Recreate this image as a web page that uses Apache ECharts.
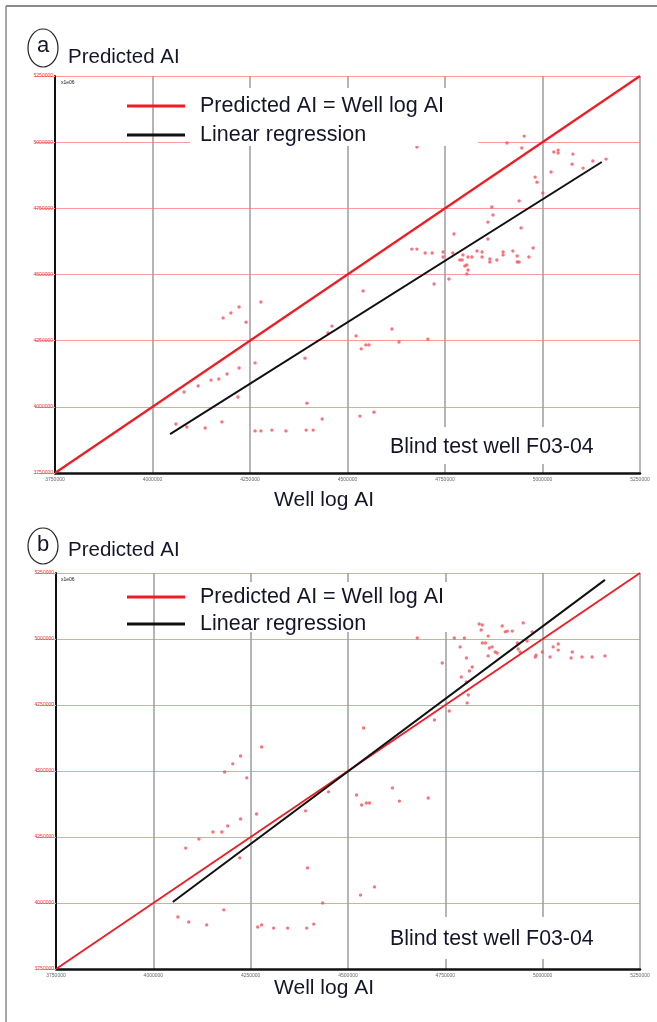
<!DOCTYPE html>
<html>
<head>
<meta charset="utf-8">
<script src="https://cdn.jsdelivr.net/npm/echarts@6/dist/echarts.min.js"></script>
<style>
html,body{margin:0;padding:0;background:#fff;}
#chart{width:657px;height:1022px;}
</style>
</head>
<body>
<div id="chart"></div>
<script>
// ---- data ----
const axisMin = 3750000;
const axisMax = 5250000;
const axisStep = 250000;
const identityLine = [[3750000, 3750000], [5250000, 5250000]];
const regressionA = [[4045000, 3897000], [5152000, 4925000]];
const regressionB = [[4050000, 4004000], [5160000, 5224000]];
const pointsA = [[4678000,4982000],[4909000,4997000],[4953000,5023000],[4947000,4978000],[5029000,4963000],[5040000,4970000],[5040000,4959000],[5078000,4955000],[5076000,4917000],[5104000,4902000],[5129000,4929000],[5163000,4936000],[5022000,4887000],[4981000,4868000],[4986000,4849000],[5001000,4808000],[4940000,4778000],[4870000,4755000],[4873000,4725000],[4860000,4698000],[4945000,4676000],[4773000,4653000],[4860000,4634000],[4976000,4600000],[4665000,4596000],[4678000,4596000],[4699000,4581000],[4717000,4581000],[4745000,4585000],[4745000,4566000],[4770000,4581000],[4796000,4574000],[4788000,4555000],[4794000,4555000],[4809000,4566000],[4819000,4566000],[4832000,4589000],[4845000,4585000],[4845000,4566000],[4865000,4559000],[4865000,4547000],[4883000,4555000],[4899000,4585000],[4899000,4574000],[4924000,4589000],[4935000,4570000],[4935000,4547000],[4940000,4547000],[4965000,4566000],[4806000,4536000],[4809000,4517000],[4806000,4502000],[4801000,4532000],[4722000,4464000],[4760000,4483000],[4540000,4438000],[4181000,4336000],[4201000,4355000],[4222000,4377000],[4240000,4320000],[4278000,4396000],[4460000,4305000],[4450000,4279000],[4522000,4268000],[4614000,4294000],[4535000,4219000],[4547000,4234000],[4555000,4234000],[4632000,4245000],[4706000,4256000],[4263000,4166000],[4391000,4184000],[4222000,4147000],[4191000,4124000],[4170000,4105000],[4150000,4101000],[4117000,4079000],[4081000,4056000],[4219000,4037000],[4396000,4014000],[4060000,3935000],[4088000,3924000],[4135000,3920000],[4178000,3943000],[4263000,3909000],[4278000,3909000],[4306000,3912000],[4342000,3909000],[4394000,3912000],[4412000,3912000],[4435000,3954000],[4532000,3965000],[4568000,3980000]];
const pointsB = [[4837000,5057000],[4845000,5053000],[4842000,5034000],[4896000,5049000],[4904000,5027000],[4909000,5030000],[4922000,5030000],[4950000,5061000],[4860000,5011000],[4678000,5004000],[4773000,5004000],[4799000,5004000],[4845000,4985000],[4853000,4985000],[4863000,4966000],[4870000,4970000],[4878000,4951000],[4883000,4947000],[4860000,4936000],[4935000,4985000],[4937000,4962000],[4942000,4951000],[4973000,5027000],[4960000,4992000],[4788000,4970000],[4983000,4939000],[4981000,4932000],[4999000,4951000],[5027000,4970000],[5040000,4981000],[5040000,4958000],[5019000,4932000],[5076000,4951000],[5073000,4928000],[5101000,4932000],[5127000,4932000],[5160000,4936000],[4804000,4928000],[4742000,4909000],[4819000,4894000],[4812000,4879000],[4791000,4856000],[4804000,4837000],[4809000,4788000],[4806000,4758000],[4760000,4727000],[4722000,4693000],[4540000,4663000],[4278000,4591000],[4224000,4557000],[4204000,4527000],[4183000,4496000],[4240000,4474000],[4450000,4421000],[4522000,4409000],[4535000,4371000],[4547000,4379000],[4555000,4379000],[4614000,4436000],[4632000,4386000],[4706000,4398000],[4265000,4337000],[4391000,4349000],[4224000,4318000],[4191000,4292000],[4176000,4269000],[4153000,4269000],[4117000,4242000],[4083000,4208000],[4222000,4171000],[4396000,4133000],[4435000,4000000],[4532000,4030000],[4568000,4061000],[4181000,3974000],[4063000,3947000],[4091000,3928000],[4137000,3917000],[4268000,3909000],[4278000,3917000],[4309000,3905000],[4345000,3905000],[4394000,3905000],[4412000,3920000]];
const panelLabels = ['a', 'b'];
const yTitle = 'Predicted AI';
const xTitle = 'Well log AI';
const wellText = 'Blind test well F03-04';
const identityName = 'Predicted AI = Well log AI';
const regressionName = 'Linear regression';
const scaleNote = 'x1e06';

// ---- chart ----
const FONT = '"Liberation Sans", Arial, sans-serif';
const chart = echarts.init(document.getElementById('chart'), null, {renderer: 'canvas'});

function xAxisCfg(gi) {
  return {
    type: 'value', gridIndex: gi, min: axisMin, max: axisMax, interval: axisStep,
    axisLine: {show: true, onZero: false, lineStyle: {color: '#111', width: 2.5}},
    axisTick: {show: false},
    axisLabel: {show: true, fontSize: 5, color: '#666', margin: 4, fontFamily: FONT, formatter: v => String(v)},
    splitLine: {show: true, lineStyle: {color: '#9c9c9c', width: 1.5}}
  };
}
function yAxisCfg(gi) {
  return {
    type: 'value', gridIndex: gi, min: axisMin, max: axisMax, interval: axisStep,
    axisLine: {show: true, onZero: false, lineStyle: {color: '#111', width: 2}},
    axisTick: {show: true, length: 20, lineStyle: {color: '#ff9a9a', width: 1}},
    axisLabel: {show: true, fontSize: 5, color: '#e83a3a', margin: 2, align: 'right', fontFamily: FONT, formatter: v => String(v)},
    splitLine: {show: true, lineStyle: {color: '#ff9a9a', width: 1}}
  };
}
function panelSeries(gi, pts, reg) {
  return [
    {type: 'scatter', name: 'points', xAxisIndex: gi, yAxisIndex: gi, data: pts,
     symbol: 'circle', symbolSize: 3.4, itemStyle: {color: '#f2525c'}, z: 3, silent: true},
    {type: 'line', name: identityName, xAxisIndex: gi, yAxisIndex: gi, data: identityLine,
     symbol: 'none', lineStyle: {color: '#ee1c25', width: gi === 0 ? 2.2 : 1.8}, itemStyle: {color: '#ee1c25'}, z: 4, silent: true},
    {type: 'line', name: regressionName, xAxisIndex: gi, yAxisIndex: gi, data: reg,
     symbol: 'none', lineStyle: {color: '#111', width: 2}, itemStyle: {color: '#111'}, z: 4, silent: true}
  ];
}
function legendCfg(top, gap) {
  return {
    data: [identityName, regressionName], orient: 'vertical', left: 127, top: top,
    itemGap: gap, itemWidth: 58, itemHeight: 3, icon: 'rect', padding: 0,
    textStyle: {fontSize: 21.5, color: '#151528', fontFamily: FONT, padding: [0, 0, 0, 10]},
    selectedMode: false, z: 6
  };
}
function whiteBox(x, y, w, h) {
  return {type: 'rect', shape: {x: x, y: y, width: w, height: h}, style: {fill: '#fff'}, z: 5, silent: true};
}
function txt(x, y, s, size, align, extra) {
  return Object.assign({type: 'text', x: x, y: y, z: 7, silent: true,
    style: {text: s, fill: '#151528', font: size + 'px ' + FONT, textAlign: align || 'left', textVerticalAlign: 'middle'}}, extra || {});
}

const option = {
  animation: false,
  backgroundColor: '#fff',
  grid: [
    {left: 55, top: 76, width: 585, height: 397},
    {left: 56, top: 573, width: 584, height: 396}
  ],
  xAxis: [xAxisCfg(0), xAxisCfg(1)],
  yAxis: [yAxisCfg(0), yAxisCfg(1)],
  legend: [legendCfg(95, 7), legendCfg(586, 5)],
  series: [].concat(panelSeries(0, pointsA, regressionA), panelSeries(1, pointsB, regressionB)),
  graphic: [
    {type: 'line', shape: {x1: 6, y1: 6, x2: 657, y2: 6}, style: {stroke: '#8a8a8a', lineWidth: 2}, z: 1, silent: true},
    {type: 'line', shape: {x1: 6, y1: 6, x2: 6, y2: 1022}, style: {stroke: '#8a8a8a', lineWidth: 1.5}, z: 1, silent: true},
    whiteBox(190, 88, 288, 58),
    whiteBox(376, 427, 262, 37),
    whiteBox(190, 582, 280, 50),
    whiteBox(376, 917, 262, 42),
    {type: 'ellipse', shape: {cx: 43, cy: 48, rx: 15, ry: 19}, style: {fill: 'none', stroke: '#222', lineWidth: 1.2}, z: 7, silent: true},
    txt(43, 46, panelLabels[0], 22, 'center'),
    {type: 'ellipse', shape: {cx: 43, cy: 546, rx: 15, ry: 18}, style: {fill: 'none', stroke: '#222', lineWidth: 1.2}, z: 7, silent: true},
    txt(43, 545, panelLabels[1], 22, 'center'),
    txt(68, 57, yTitle, 20.5),
    txt(68, 550, yTitle, 20.5),
    txt(324, 500, xTitle, 21, 'center'),
    txt(324, 988, xTitle, 21, 'center'),
    txt(390, 447, wellText, 21.3),
    txt(390, 939, wellText, 21.3),
    txt(61, 83, scaleNote, 5, 'left'),
    txt(61, 580, scaleNote, 5, 'left')
  ]
};
chart.setOption(option);
</script>
</body>
</html>
